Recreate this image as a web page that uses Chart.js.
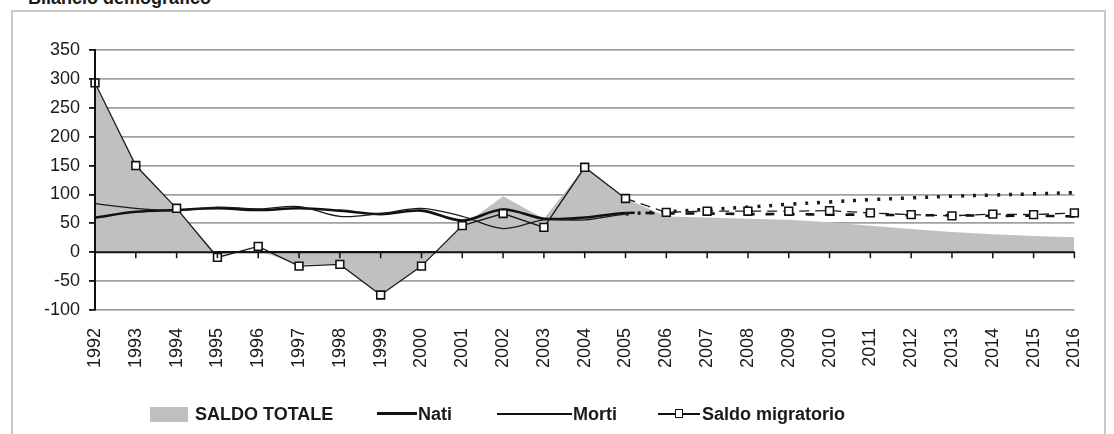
<!DOCTYPE html>
<html>
<head>
<meta charset="utf-8">
<script src="https://cdn.jsdelivr.net/npm/chart.js@4"></script>
<style>
  html, body { margin:0; padding:0; background:#fff; }
  #wrap { position:relative; width:1114px; height:434px; overflow:hidden; background:#fff;
          font-family:"Liberation Sans", Arial, sans-serif; color:#1a1a1a; }
  #frame { position:absolute; left:11px; top:10px; width:1091px; height:450px; border:2px solid #c9c9c9; }
  #title { position:absolute; left:28px; top:-11px; font-weight:bold; font-size:18px; line-height:18px; white-space:nowrap; }
  canvas { position:absolute; left:0; top:0; }
  .lg { position:absolute; font-weight:bold; font-size:18px; line-height:18px; top:405px; white-space:nowrap; }
  .sw { position:absolute; }
</style>
</head>
<body>
<div id="wrap">
  <div id="frame"></div>
  <div id="title">Bilancio demografico</div>
  <canvas id="c" width="1114" height="434"></canvas>
  <div class="sw" style="left:150px;top:407px;width:38px;height:15px;background:#bfbfbf"></div>
  <div class="lg" style="left:195px">SALDO TOTALE</div>
  <div class="sw" style="left:377px;top:412px;width:40px;height:3px;background:#111"></div>
  <div class="lg" style="left:418px">Nati</div>
  <div class="sw" style="left:497px;top:413px;width:75px;height:1.5px;background:#111"></div>
  <div class="lg" style="left:573px">Morti</div>
  <div class="sw" style="left:658px;top:413px;width:42px;height:1.5px;background:#111"></div>
  <div class="sw" style="left:675px;top:409px;width:6px;height:7px;background:#fff;border:1.5px solid #111"></div>
  <div class="lg" style="left:702px">Saldo migratorio</div>
</div>
<script>
// ---- data ----
const years = ['1992','1993','1994','1995','1996','1997','1998','1999','2000','2001','2002','2003','2004',
               '2005','2006','2007','2008','2009','2010','2011','2012','2013','2014','2015','2016'];
const saldoTotale = [290,150,75,-5,3,-22,-20,-74,-24,45,97,58,147,93,62,60,58,56,52,46,40,35,31,28,26];
const nati        = [60,70,73,76,73,76,72,66,72,55,74,58,60,68,67,67,66,66,65,65,64,64,63,63,62];
const morti       = [84,76,72,78,75,79,62,67,76,62,41,56,56,66,70,74,78,83,87,91,94,97,99,101,103];
const saldoMigratorio = [293,150,76,-9,10,-24,-21,-74,-24,46,67,43,147,93,69,71,71,71,72,68,65,63,66,65,68];
const lastObserved = 13; // 2005: afterwards projection
const yTicks = { min:-100, max:350, step:50 };

const dashAfter = (pattern) => ctx => ctx.p1DataIndex > lastObserved ? pattern : [];

const zeroLinePlugin = {
  id:'zeroLine',
  afterDatasetsDraw(chart){
    const {ctx, chartArea, scales:{x,y}} = chart;
    const y0 = y.getPixelForValue(0);
    ctx.save();
    ctx.strokeStyle = '#111';
    ctx.lineWidth = 2;
    ctx.beginPath();
    ctx.moveTo(chartArea.left, y0); ctx.lineTo(chartArea.right, y0);
    ctx.stroke();
    ctx.lineWidth = 1.5;
    for (let i = 0; i < years.length; i++) {
      const px = x.getPixelForValue(i);
      ctx.beginPath(); ctx.moveTo(px, y0); ctx.lineTo(px, y0 + 6); ctx.stroke();
    }
    ctx.lineWidth = 2;
    ctx.beginPath();
    ctx.moveTo(chartArea.left, chartArea.top); ctx.lineTo(chartArea.left, chartArea.bottom);
    ctx.stroke();
    ctx.restore();
  }
};

new Chart(document.getElementById('c'), {
  type:'line',
  data:{
    labels: years,
    datasets:[
      { label:'Saldo migratorio', data:saldoMigratorio, order:0,
        borderColor:'#1a1a1a', borderWidth:1.3, tension:0,
        pointStyle:'rect', pointRadius:5.5, pointBorderWidth:1.6,
        pointBackgroundColor:'#fff', pointBorderColor:'#111',
        segment:{ borderDash: dashAfter([10,6]) } },
      { label:'Morti', data:morti, order:1,
        borderColor:'#1a1a1a', borderWidth:1.3, tension:0.35, pointRadius:0,
        segment:{ borderDash: dashAfter([3,9]), borderWidth: ctx => ctx.p1DataIndex > lastObserved ? 3.5 : 1.3 } },
      { label:'Nati', data:nati, order:2,
        borderColor:'#111', borderWidth:2.6, tension:0.35, pointRadius:0,
        segment:{ borderDash: dashAfter([9,11]) } },
      { label:'SALDO TOTALE', data:saldoTotale, order:10,
        borderWidth:0, borderColor:'rgba(0,0,0,0)', backgroundColor:'#c0c0c0',
        fill:'origin', tension:0, pointRadius:0 }
    ]
  },
  options:{
    responsive:false, animation:false, devicePixelRatio:1,
    layout:{ padding:{ left:0, right:34, top:50, bottom:0 } },
    plugins:{ legend:{display:false}, title:{display:false}, tooltip:{enabled:false} },
    scales:{
      x:{
        offset:false,
        grid:{ display:false, drawTicks:false },
        border:{ display:false },
        ticks:{ autoSkip:false, maxRotation:90, minRotation:90, padding:18,
                color:'#1a1a1a', font:{ family:'"Liberation Sans", Arial', size:18 } },
        afterFit(s){ s.height = 124; }
      },
      y:{
        min:yTicks.min, max:yTicks.max,
        grid:{ color: c => c.tick && c.tick.value === 0 ? '#111' : '#a0a0a0',
               lineWidth: 1.8, tickLength:6, tickColor:'#111', drawTicks:true },
        border:{ display:true, color:'#111', width:2 },
        ticks:{ stepSize:yTicks.step, padding:9, color:'#1a1a1a',
                font:{ family:'"Liberation Sans", Arial', size:18 } },
        afterFit(s){ s.width = 95; }
      }
    }
  },
  plugins:[zeroLinePlugin]
});
</script>
</body>
</html>
